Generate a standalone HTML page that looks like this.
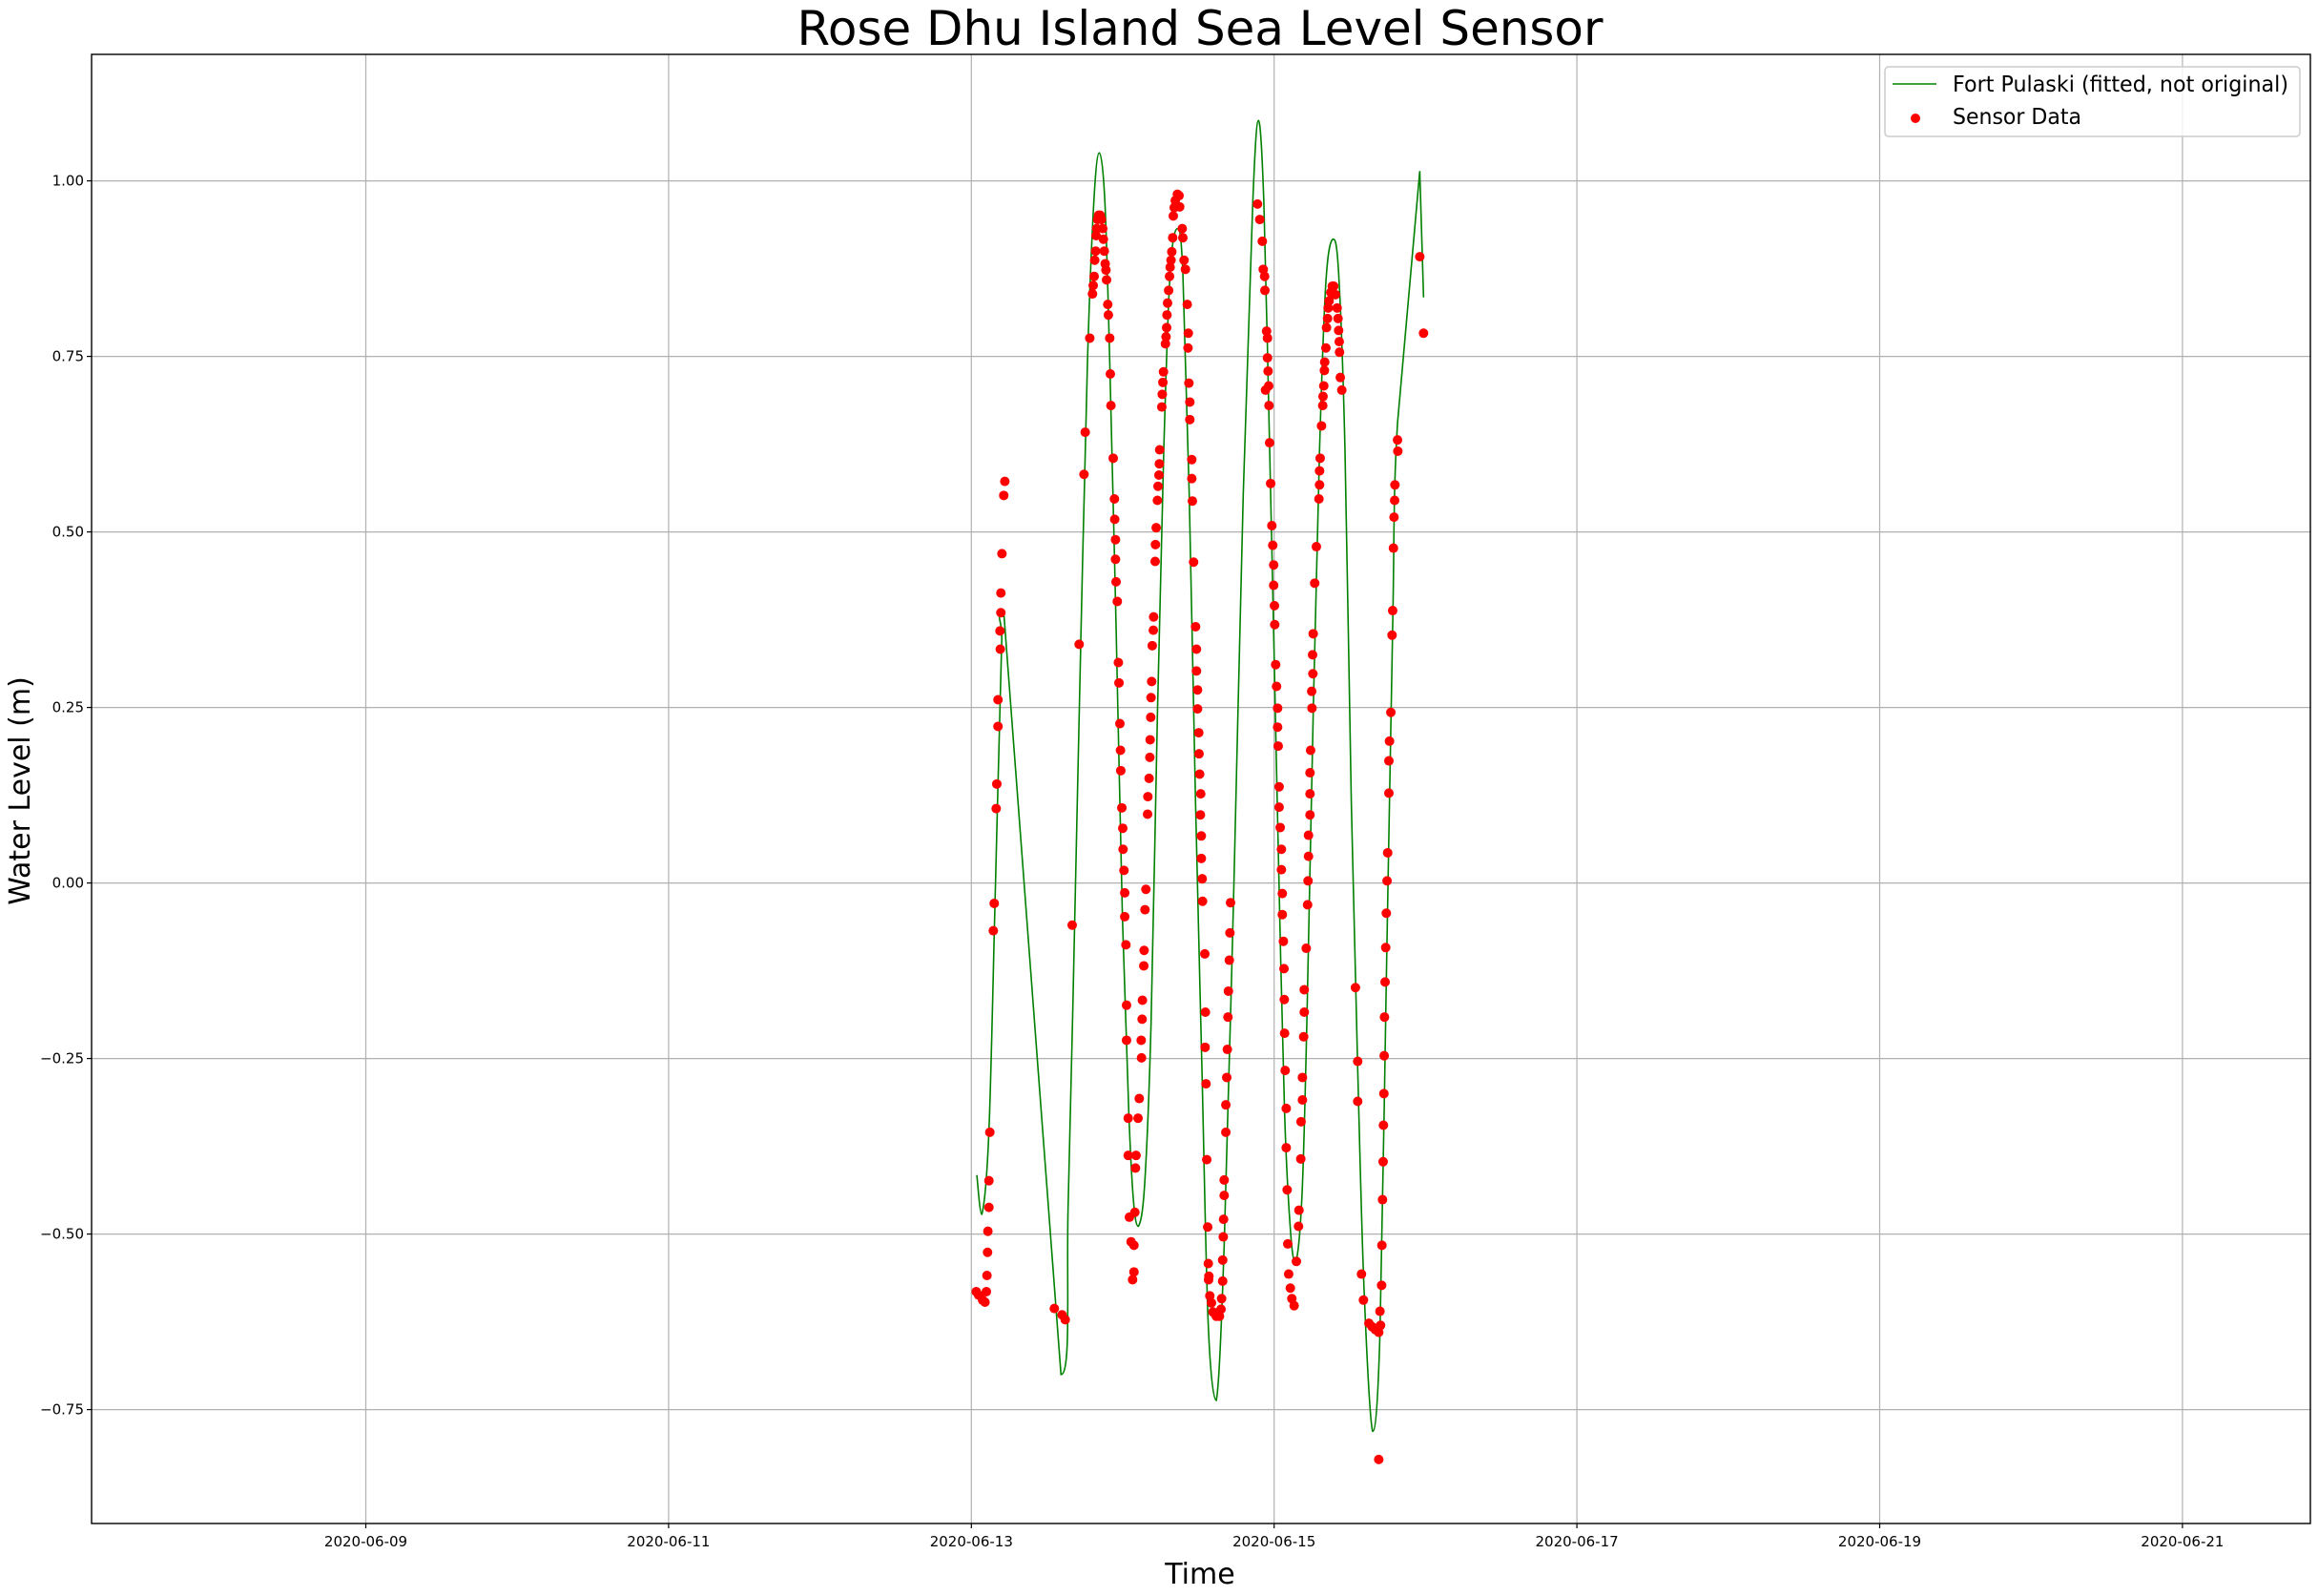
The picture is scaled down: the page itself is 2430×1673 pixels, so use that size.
<!DOCTYPE html>
<html><head><meta charset="utf-8"><style>
html,body{margin:0;padding:0;background:#fff;}
svg{display:block;font-family:"DejaVu Sans","Liberation Sans",sans-serif;}
</style></head><body>
<svg id="chart" width="2430" height="1673" viewBox="0 0 2430 1673" xmlns="http://www.w3.org/2000/svg">
<rect x="0" y="0" width="2430" height="1673" fill="#fff"/>
<text x="1258" y="47" text-anchor="middle" font-size="50" textLength="845" lengthAdjust="spacingAndGlyphs">Rose Dhu Island Sea Level Sensor</text>
<g id="grid"></g>
<g id="fit"></g>
<g id="pts"></g>
<g id="axes"></g>
<text transform="translate(31,829) rotate(-90)" text-anchor="middle" font-size="30">Water Level (m)</text>
<text x="1258" y="1660" text-anchor="middle" font-size="30">Time</text>
<g>
<rect x="1976" y="70" width="435" height="73" rx="4" fill="#fff" fill-opacity="0.8" stroke="#ccc" stroke-width="1.5"/>
<line x1="1984" y1="88" x2="2030" y2="88" stroke="green" stroke-width="1.6"/>
<text x="2047" y="96" font-size="23" textLength="352" lengthAdjust="spacingAndGlyphs">Fort Pulaski (fitted, not original)</text>
<circle cx="2008" cy="124" r="5" fill="red"/>
<text x="2047" y="130" font-size="23" textLength="135" lengthAdjust="spacingAndGlyphs">Sensor Data</text>
</g>
</svg>
<script>
// days since 2020-06-13 00:00
const fitDays=[0.036,0.069,0.116,0.158,0.2,0.216,0.592,0.64,0.683,0.725,0.767,0.809,0.845,0.882,0.914,0.956,0.998,1.04,1.071,1.103,1.145,1.187,1.229,1.271,1.313,1.361,1.397,1.439,1.481,1.523,1.565,1.618,1.67,1.733,1.796,1.859,1.897,1.932,1.964,1.996,2.027,2.069,2.111,2.145,2.185,2.216,2.258,2.3,2.342,2.388,2.426,2.468,2.51,2.552,2.594,2.651,2.699,2.741,2.783,2.815,2.962,2.987];
const fitVals=[-0.416,-0.472,-0.353,-0.013,0.34,0.38,-0.70,-0.453,-0.05,0.365,0.743,0.97,1.04,0.97,0.743,0.365,-0.05,-0.327,-0.453,-0.489,-0.428,-0.2,0.24,0.617,0.869,0.932,0.869,0.554,0.113,-0.264,-0.63,-0.737,-0.516,-0.013,0.554,0.97,1.086,0.97,0.68,0.365,0.05,-0.327,-0.504,-0.539,-0.44,-0.2,0.24,0.617,0.856,0.917,0.869,0.617,0.113,-0.264,-0.579,-0.781,-0.642,-0.139,0.365,0.655,1.014,0.834];
const sensorDays=[.032,.048,.074,.090,.099,.103,.107,.109,.116,.116,.122,.145,.151,.164,.168,.176,.176,.191,.189,.195,.195,.202,.214,.221,
.548,.599,.620,.666,.712,.744,.752,.782,
.800,.805,.811,.815,.821,.824,.828,.834,.840,.851,.859,.868,.872,.878,.884,.889,.893,.901,.905,.914,.918,.922,.937,.945,.947,.952,.952,.956,.964,.971,.975,.981,.985,.987,.994,1.0,1.002,1.008,1.013,1.013,1.021,1.025,1.025,1.036,1.036,1.044,1.055,1.074,1.080,1.074,1.065,
1.084,1.088,1.101,1.109,1.124,1.122,1.128,1.130,1.139,1.141,1.147,1.153,1.164,1.166,1.174,1.179,1.181,1.185,1.187,1.191,1.195,1.202,1.204,1.214,1.216,1.221,1.229,1.233,1.239,1.242,1.244,1.258,1.261,1.265,1.269,1.282,1.286,1.290,1.292,1.296,1.303,1.309,1.313,1.319,1.324,1.330,1.334,1.340,1.347,1.361,1.372,1.376,1.393,1.397,1.405,1.414,1.426,1.433,1.431,1.437,1.443,1.443,1.456,1.456,1.460,1.468,1.481,1.487,1.487,1.494,1.494,1.502,1.504,1.508,1.515,1.513,1.519,1.519,1.525,1.527,1.542,1.546,1.544,1.550,1.555,1.561,1.565,1.567,
1.569,1.575,1.586,1.596,1.618,1.639,1.649,1.653,1.660,1.660,1.664,1.666,1.670,1.670,1.681,1.681,1.687,1.691,1.695,1.698,1.704,1.708,1.712,
1.890,1.905,1.922,1.928,1.937,1.939,1.950,1.956,1.956,1.960,1.964,1.943,1.966,1.970,1.977,1.985,1.991,1.997,1.997,2.002,2.004,2.010,2.016,2.023,2.023,2.027,2.033,2.033,2.040,2.048,2.048,2.054,2.054,2.061,2.065,2.067,2.069,2.073,2.080,2.080,2.086,2.090,2.096,2.107,2.117,2.132,2.147,2.161,2.164,2.176,2.178,2.187,2.187,2.195,2.199,2.199,2.212,2.221,2.224,2.227,2.227,2.237,2.237,2.237,2.241,2.250,2.248,2.256,2.254,2.258,2.268,2.279,2.296,2.300,2.300,2.304,2.313,2.321,2.323,2.328,2.332,2.334,2.342,2.346,2.353,2.357,2.363,2.374,2.384,2.394,2.405,2.416,2.422,2.426,2.430,2.432,2.437,2.447,
2.537,2.552,2.552,2.577,2.590,2.626,2.647,2.668,2.691,2.703,2.699,2.710,2.712,2.716,2.720,2.722,2.725,2.727,2.729,2.733,2.737,2.741,2.746,2.750,2.758,2.758,2.762,2.771,2.779,2.783,2.788,2.792,2.796,2.798,2.817,2.815,2.962,2.987,2.691];
const sensorVals=[-.582,-.587,-.594,-.597,-.582,-.559,-.526,-.496,-.462,-.424,-.355,-.068,-.029,.106,.141,.223,.261,.333,.359,.385,.413,.469,.552,.572,
-.606,-.615,-.622,-.060,.340,.582,.642,.776,
.839,.851,.864,.887,.900,.922,.932,.945,.951,.951,.945,.932,.917,.900,.882,.873,.859,.824,.809,.776,.725,.680,.605,.547,.518,.489,.461,.429,.401,.314,.285,.227,.189,.160,.107,.078,.048,.018,-.014,-.048,-.088,-.174,-.224,-.335,-.388,-.476,-.511,-.516,-.469,-.554,-.565,
-.406,-.388,-.335,-.307,-.249,-.224,-.194,-.167,-.118,-.096,-.038,-.009,.098,.123,.149,.179,.204,.236,.264,.287,.338,.360,.379,.458,.482,.506,.545,.565,.581,.597,.617,.678,.696,.713,.728,.768,.778,.791,.809,.826,.844,.864,.877,.887,.899,.919,.950,.962,.972,.981,.979,.963,.932,.919,.887,.874,.824,.783,.762,.712,.685,.660,.603,.576,.544,.457,.365,.333,.302,.275,.248,.214,.184,.155,.127,.097,.067,.035,.006,-.026,-.101,-.184,-.234,-.286,-.394,-.490,-.542,-.565,
-.560,-.588,-.598,-.611,-.617,-.617,-.607,-.592,-.567,-.537,-.504,-.479,-.445,-.423,-.355,-.316,-.277,-.237,-.191,-.154,-.110,-.071,-.028,
.967,.945,.914,.874,.864,.844,.786,.776,.748,.729,.708,.702,.680,.627,.569,.509,.481,.453,.424,.395,.368,.311,.280,.249,.222,.195,.137,.108,.079,.048,.019,-.015,-.045,-.083,-.122,-.166,-.214,-.267,-.321,-.377,-.437,-.514,-.557,-.577,-.592,-.602,-.539,-.489,-.466,-.393,-.340,-.309,-.277,-.219,-.184,-.152,-.093,-.031,.003,.038,.068,.097,.127,.157,.189,.249,.273,.298,.325,.355,.427,.479,.547,.567,.587,.605,.651,.680,.693,.708,.730,.742,.762,.791,.804,.819,.829,.841,.850,.850,.838,.819,.804,.787,.771,.756,.720,.702,
-.149,-.254,-.311,-.557,-.594,-.627,-.632,-.636,-.640,-.630,-.610,-.573,-.516,-.451,-.397,-.345,-.300,-.246,-.191,-.141,-.092,-.043,.003,.043,.128,.174,.202,.243,.353,.388,.477,.521,.545,.567,.615,.631,.892,.783,-.821];
const yTicks=[-0.75,-0.5,-0.25,0,0.25,0.5,0.75,1.0];
const yTickLabels=["\u22120.75","\u22120.50","\u22120.25","0.00","0.25","0.50","0.75","1.00"];
const xTickDays=[-4,-2,0,2,4,6,8];
const xTickLabels=["2020-06-09","2020-06-11","2020-06-13","2020-06-15","2020-06-17","2020-06-19","2020-06-21"];

const L=96,R=2422,T=57,B=1597;
function xs(d){return 1018.3+d*158.7;}
function ys(v){return 557.6-(v-0.5)*736;}
const NS="http://www.w3.org/2000/svg";
function mk(tag,attrs,parent){const e=document.createElementNS(NS,tag);for(const k in attrs)e.setAttribute(k,attrs[k]);parent.appendChild(e);return e;}
const grid=document.getElementById('grid'),axes=document.getElementById('axes');
yTicks.forEach((v,i)=>{
  const y=ys(v);
  const g=mk('line',{x1:L,x2:R,y1:y,y2:y,stroke:'#b0b0b0','stroke-width':1.2},grid);
  
  
  const t=mk('line',{x1:L-5,x2:L,y1:y,y2:y,stroke:'#000','stroke-width':1.2},axes);
  
  
  const lb=mk('text',{x:L-8,y:y+5,'text-anchor':'end','font-size':15},axes);
  lb.textContent=yTickLabels[i];
  
  
});
xTickDays.forEach((d,i)=>{
  const x=xs(d);
  const g=mk('line',{x1:x,x2:x,y1:T,y2:B,stroke:'#b0b0b0','stroke-width':1.2},grid);
  
  
  const t=mk('line',{x1:x,x2:x,y1:B,y2:B+5,stroke:'#000','stroke-width':1.2},axes);
  
  
  const lb=mk('text',{x:x,y:B+24,'text-anchor':'middle','font-size':15},axes);
  lb.textContent=xTickLabels[i];
  
  
});
const frame=mk('rect',{x:L,y:T,width:R-L,height:B-T,fill:'none',stroke:'#000','stroke-width':1.4},axes);



// fitted line: clamped Catmull-Rom smoothing through fitted points
const P=fitDays.map((d,i)=>[xs(d),ys(fitVals[i])]);
function clamp(v,a,b){const lo=Math.min(a,b),hi=Math.max(a,b);return Math.max(lo,Math.min(hi,v));}
let dstr='M'+P[0][0]+','+P[0][1];
for(let i=0;i<P.length-1;i++){
  const p0=P[Math.max(0,i-1)],p1=P[i],p2=P[i+1],p3=P[Math.min(P.length-1,i+2)];
  const straight=(i===5||i===59||i===60);
  if(straight){dstr+=' L'+p2[0]+','+p2[1];continue;}
  const c1=[p1[0]+(p2[0]-p0[0])/6,clamp(p1[1]+(p2[1]-p0[1])/6,p1[1],p2[1])];
  const c2=[p2[0]-(p3[0]-p1[0])/6,clamp(p2[1]-(p3[1]-p1[1])/6,p1[1],p2[1])];
  dstr+=' C'+c1[0]+','+c1[1]+' '+c2[0]+','+c2[1]+' '+p2[0]+','+p2[1];
}
const fl=mk('path',{d:dstr,fill:'none',stroke:'green','stroke-width':1.6},document.getElementById('fit'));



const pts=document.getElementById('pts');
sensorDays.forEach((d,i)=>{
  const c=mk('circle',{cx:xs(d),cy:ys(sensorVals[i]),r:5,fill:'red'},pts);
  
  
});
</script>
</body></html>
